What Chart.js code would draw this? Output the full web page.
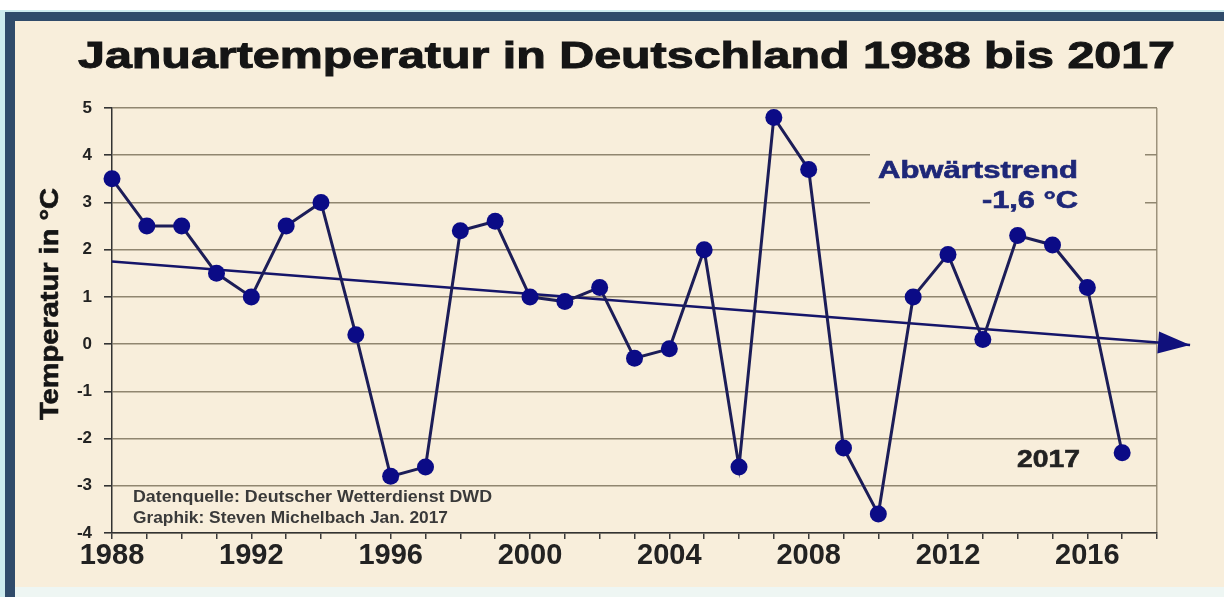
<!DOCTYPE html>
<html><head><meta charset="utf-8">
<script src="https://cdn.jsdelivr.net/npm/chart.js@4.4.0/dist/chart.umd.min.js"></script>
<style>html,body{margin:0;padding:0;background:#fff;overflow:hidden}canvas{display:block}</style>
</head><body>
<canvas id="c" width="1224" height="597"></canvas>
<script>
// ---- data ----
const years = [1988,1989,1990,1991,1992,1993,1994,1995,1996,1997,1998,1999,2000,2001,2002,2003,2004,2005,2006,2007,2008,2009,2010,2011,2012,2013,2014,2015,2016,2017];
const temps = [3.5,2.5,2.5,1.5,1.0,2.5,3.0,0.2,-2.8,-2.6,2.4,2.6,1.0,0.9,1.2,-0.3,-0.1,2.0,-2.6,4.8,3.7,-2.2,-3.6,1.0,1.9,0.1,2.3,2.1,1.2,-2.3];
const trendYears = [1988, 2018.95];
const trendValues = [1.75, -0.02];
const xTickLabels = [1988,1992,1996,2000,2004,2008,2012,2016];
const yMin = -4, yMax = 5;
const xMin = 1988, xMax = 2018;
const titleText = 'Januartemperatur in Deutschland 1988 bis 2017';
const yAxisTitle = 'Temperatur in °C';
const trendLabel = ['Abwärtstrend', '-1,6 °C'];
const lastYearLabel = '2017';
const sourceLines = ['Datenquelle: Deutscher Wetterdienst DWD', 'Graphik: Steven Michelbach Jan. 2017'];

const FONT = '"Liberation Sans", Arial, sans-serif';
const CREAM = '#f8eedb';

function drawFit(ctx, text, font, color, left, right, baseline, stroke) {
  ctx.save();
  ctx.font = font; ctx.fillStyle = color;
  ctx.textAlign = 'left'; ctx.textBaseline = 'alphabetic';
  const w = ctx.measureText(text).width;
  ctx.translate(left, baseline);
  ctx.scale((right - left) / w, 1);
  ctx.fillText(text, 0, 0);
  if (stroke) { ctx.strokeStyle = color; ctx.lineWidth = stroke; ctx.strokeText(text, 0, 0); }
  ctx.restore();
}

const decor = {
  id: 'decor',
  beforeDraw(chart) {
    const ctx = chart.ctx, W = chart.width, H = chart.height;
    ctx.save();
    ctx.fillStyle = '#ffffff'; ctx.fillRect(0, 0, W, H);
    ctx.fillStyle = '#cdebee'; ctx.fillRect(0, 10, 6, H - 10); ctx.fillRect(4, 10, W, 3);
    ctx.fillStyle = '#304b6a'; ctx.fillRect(5, 12, W - 5, 9); ctx.fillRect(5, 12, 10, H - 12);
    ctx.fillStyle = CREAM; ctx.fillRect(15, 21, W - 15, 566);
    ctx.fillStyle = '#eef6f3'; ctx.fillRect(15, 587, W - 15, H - 587);
    ctx.restore();
  },
  beforeDatasetsDraw(chart) {
    const ctx = chart.ctx;
    ctx.save();
    ctx.fillStyle = CREAM;
    ctx.fillRect(870, 117, 275, 116);
    ctx.restore();
    drawFit(ctx, trendLabel[0], 'bold 23px ' + FONT, '#1e2778', 878, 1078, 178, 0.6);
    drawFit(ctx, trendLabel[1], 'bold 23px ' + FONT, '#1e2778', 982, 1078, 208, 0.6);
    drawFit(ctx, sourceLines[0], 'bold 17px ' + FONT, '#3a3a3a', 133, 492, 502);
    drawFit(ctx, sourceLines[1], 'bold 17px ' + FONT, '#3a3a3a', 133, 448, 523);
    drawFit(ctx, lastYearLabel, 'bold 24px ' + FONT, '#222222', 1017, 1080, 467, 0.6);
  },
  afterDraw(chart) {
    const ctx = chart.ctx;
    // arrow head at end of trend line
    const meta = chart.getDatasetMeta(1);
    const pts = meta.data;
    const a = pts[pts.length - 2], b = pts[pts.length - 1];
    const ang = Math.atan2(b.y - a.y, b.x - a.x);
    const L = 32, Hw = 11;
    ctx.save();
    ctx.fillStyle = '#10107c';
    ctx.translate(b.x, b.y); ctx.rotate(ang);
    ctx.beginPath(); ctx.moveTo(0, 0); ctx.lineTo(-L, -Hw); ctx.lineTo(-L, Hw); ctx.closePath(); ctx.fill();
    ctx.restore();
    // title
    drawFit(ctx, titleText, 'bold 37px ' + FONT, '#151515', 78, 1175, 68, 1);
    // y axis title
    ctx.save();
    ctx.font = 'bold 25px ' + FONT; ctx.fillStyle = '#151515'; ctx.strokeStyle = '#151515'; ctx.lineWidth = 0.6;
    ctx.textAlign = 'left'; ctx.textBaseline = 'alphabetic';
    const w = ctx.measureText(yAxisTitle).width;
    ctx.translate(58, 420); ctx.rotate(-Math.PI / 2); ctx.scale(232 / w, 1);
    ctx.fillText(yAxisTitle, 0, 0); ctx.strokeText(yAxisTitle, 0, 0);
    ctx.restore();
  }
};

new Chart(document.getElementById('c'), {
  type: 'line',
  data: {
    datasets: [
      {
        label: 'Januartemperatur',
        data: years.map((y, i) => ({ x: y, y: temps[i] })),
        borderColor: '#1c1d58', borderWidth: 3,
        pointRadius: 8.5, pointBackgroundColor: '#0b0b86', pointBorderColor: '#0b0b86', pointBorderWidth: 0,
        tension: 0, clip: false, order: 1
      },
      {
        label: 'Trend',
        data: trendYears.map((y, i) => ({ x: y, y: trendValues[i] })),
        borderColor: '#15156a', borderWidth: 2.5, pointRadius: 0,
        tension: 0, clip: false, order: 2
      }
    ]
  },
  options: {
    responsive: false, animation: false, devicePixelRatio: 1, events: [],
    layout: { padding: { left: 15, right: 67, top: 108, bottom: 8 } },
    plugins: { legend: { display: false }, title: { display: false }, tooltip: { enabled: false } },
    scales: {
      x: {
        type: 'linear', min: xMin, max: xMax,
        afterFit(s) { s.height = 56; },
        ticks: {
          stepSize: 1, autoSkip: false, maxRotation: 0, minRotation: 0, padding: 0,
          font: { family: FONT, weight: 'bold', size: 29 }, color: '#222',
          callback: (v) => xTickLabels.includes(Math.round(v)) ? String(Math.round(v)) : ''
        },
        grid: {
          color: (c) => (c.tick && Math.round(c.tick.value) === xMax) ? '#9d927c' : 'rgba(0,0,0,0)',
          tickColor: '#3a3a3a', tickLength: 6, lineWidth: 1.5
        },
        border: { color: '#333', width: 1.5 }
      },
      y: {
        min: yMin, max: yMax,
        afterFit(s) { s.width = 97; },
        ticks: { stepSize: 1, padding: 12, font: { family: FONT, weight: 'bold', size: 17 }, color: '#222' },
        grid: { color: '#908670', lineWidth: 1.6, tickColor: '#333', tickLength: 8 },
        border: { color: '#333', width: 1.5 }
      }
    }
  },
  plugins: [decor]
});
</script>
</body></html>
